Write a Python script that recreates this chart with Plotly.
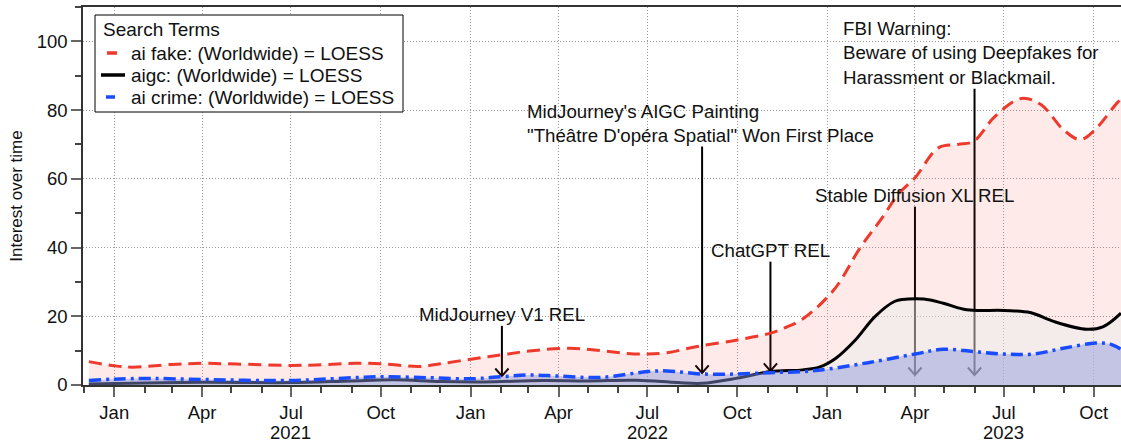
import pandas as pd
import plotly.graph_objects as go

# ---------------- data ----------------
fake_dates = ["2020-12-06", "2021-01-01", "2021-01-20", "2021-03-01", "2021-04-01", "2021-05-06",
              "2021-07-01", "2021-08-04", "2021-09-04", "2021-10-01", "2021-11-10", "2021-12-01",
              "2022-01-01", "2022-01-31", "2022-03-02", "2022-04-13", "2022-05-14", "2022-06-10",
              "2022-07-01", "2022-07-21", "2022-08-21", "2022-10-01", "2022-11-04", "2022-11-20",
              "2022-12-07", "2023-01-08", "2023-02-04", "2023-02-25", "2023-03-16", "2023-04-01",
              "2023-04-25", "2023-05-15", "2023-05-31", "2023-06-22", "2023-07-19", "2023-08-08",
              "2023-08-31", "2023-09-17", "2023-10-01", "2023-10-25", "2023-10-29"]
fake_vals = [6.8, 5.6, 5.2, 6.0, 6.3, 6.1,
             5.7, 5.9, 6.3, 6.2, 5.4, 6.2,
             7.5, 8.7, 9.9, 10.7, 10.0, 9.2,
             9.0, 9.4, 11.2, 13.1, 15.1, 16.8,
             19.2, 27.7, 40.0, 48.1, 55.9, 60.3,
             69.0, 70.0, 70.9, 78.2, 83.4, 81.6,
             74.3, 71.4, 73.9, 82.1, 83.2]

aigc_dates = ["2020-12-06", "2021-02-01", "2021-04-01", "2021-07-01", "2021-09-01", "2021-10-15",
              "2021-12-01", "2022-01-15", "2022-03-15", "2022-05-01", "2022-06-20", "2022-08-01",
              "2022-08-26", "2022-10-01", "2022-11-04", "2022-12-07", "2022-12-24", "2023-01-10",
              "2023-01-30", "2023-02-19", "2023-03-11", "2023-03-25", "2023-04-10", "2023-04-30",
              "2023-05-24", "2023-07-01", "2023-07-28", "2023-08-21", "2023-09-24", "2023-10-11",
              "2023-10-29"]
aigc_vals = [0.3, 0.6, 0.8, 0.7, 1.2, 1.5,
             1.0, 0.9, 1.3, 1.2, 1.4, 0.7,
             0.5, 2.0, 3.9, 4.4, 5.2, 7.8,
             13.1, 19.9, 24.3, 25.0, 25.0, 23.8,
             21.9, 21.7, 21.1, 18.5, 16.2, 17.0,
             20.9]

crime_dates = ["2020-12-06", "2021-01-01", "2021-02-07", "2021-04-01", "2021-07-01", "2021-08-18",
               "2021-10-01", "2021-11-21", "2022-01-01", "2022-02-01", "2022-03-02", "2022-04-01",
               "2022-05-14", "2022-07-01", "2022-07-21", "2022-08-26", "2022-10-01", "2022-11-04",
               "2022-12-07", "2023-01-01", "2023-02-12", "2023-04-01", "2023-04-30", "2023-06-01",
               "2023-07-01", "2023-07-31", "2023-08-31", "2023-10-03", "2023-10-18", "2023-10-29"]
crime_vals = [1.3, 1.7, 1.9, 1.6, 1.3, 1.9,
              2.4, 2.1, 1.8, 2.4, 2.9, 2.6,
              2.2, 3.9, 4.1, 3.2, 3.2, 3.6,
              3.9, 4.6, 6.5, 9.0, 10.4, 9.7,
              9.0, 9.0, 10.7, 12.2, 11.9, 10.4]

series_names = ["ai fake: (Worldwide) = LOESS", "aigc: (Worldwide) = LOESS", "ai crime: (Worldwide) = LOESS"]
legend_title = "Search Terms"

event_dates = ["2022-02-02", "2022-08-26", "2022-11-04", "2023-04-01", "2023-06-01"]
event_tail = [17.2, 69.4, 35.9, 51.9, 86.2]
event_head = [2.6, 3.5, 4.1, 2.9, 2.9]
event_labels = ["MidJourney V1 REL",
                "MidJourney's AIGC Painting<br>\"Théâtre D'opéra Spatial\" Won First Place",
                "ChatGPT REL",
                "Stable Diffusion XL REL",
                "FBI Warning:<br>Beware of using Deepfakes for<br>Harassment or Blackmail."]

tick_dates = ["2021-01-01", "2021-04-01", "2021-07-01", "2021-10-01",
              "2022-01-01", "2022-04-01", "2022-07-01", "2022-10-01",
              "2023-01-01", "2023-04-01", "2023-07-01", "2023-10-01"]
tick_labels = ["Jan", "Apr", "Jul", "Oct"] * 3
year_dates = ["2021-07-01", "2022-07-01", "2023-07-01"]
year_labels = ["2021", "2022", "2023"]

y_ticks = [0, 20, 40, 60, 80, 100]
x_range = ["2020-11-30", "2023-10-29"]
y_range = [0, 110]

# ---------------- figure ----------------
FONT = "Liberation Sans, Arial, Helvetica, sans-serif"
W, H = 1121, 442
ML, MR, MT, MB = 83, 0, 7, 57
PW, PH = W - ML - MR, H - MT - MB


def pxx(p):  # pixel x -> paper
    return (p - ML) / PW


def pxy(p):  # pixel y -> paper
    return (H - MB - p) / PH


fig = go.Figure()

# arrows (drawn beneath the area fills)
head_half_days = 6.8
head_height = 2.2
for d, t, h in zip(event_dates, event_tail, event_head):
    dt = pd.Timestamp(d)
    fig.add_trace(go.Scatter(x=[dt, dt], y=[t, h], mode="lines",
                             line=dict(color="black", width=2), showlegend=False, hoverinfo="skip"))
    fig.add_trace(go.Scatter(x=[dt - pd.Timedelta(days=head_half_days), dt, dt + pd.Timedelta(days=head_half_days)],
                             y=[h + head_height, h, h + head_height], mode="lines",
                             line=dict(color="black", width=2), showlegend=False, hoverinfo="skip"))

colors = ["#ee3a2c", "black", "#1a4cff"]
dashes = ["13px,7px", "solid", "12px,5px,3px,5px"]
fig.add_trace(go.Scatter(x=pd.to_datetime(fake_dates), y=fake_vals, name=series_names[0], showlegend=False,
                         mode="lines", line=dict(color=colors[0], width=3, dash=dashes[0], shape="spline", smoothing=1),
                         fill="tozeroy", fillcolor="rgba(245,70,55,0.11)"))
fig.add_trace(go.Scatter(x=pd.to_datetime(aigc_dates), y=aigc_vals, name=series_names[1], showlegend=False,
                         mode="lines", line=dict(color=colors[1], width=3, shape="spline", smoothing=1),
                         fill="tozeroy", fillcolor="rgba(233,238,236,0.45)"))
fig.add_trace(go.Scatter(x=pd.to_datetime(crime_dates), y=crime_vals, name=series_names[2], showlegend=False,
                         mode="lines", line=dict(color=colors[2], width=3.5, dash=dashes[2], shape="spline", smoothing=1),
                         fill="tozeroy", fillcolor="rgba(140,150,220,0.46)"))

# text labels of the events
text_cfg = [dict(xanchor="center", xshift=0, align="center"),
            dict(xanchor="left", xshift=-176, align="left"),
            dict(xanchor="center", xshift=0, align="center"),
            dict(xanchor="center", xshift=0, align="center"),
            dict(xanchor="left", xshift=-133, align="left")]
for d, t, lab, cfg in zip(event_dates, event_tail, event_labels, text_cfg):
    fig.add_annotation(x=pd.Timestamp(d), y=t, text=lab, showarrow=False, yanchor="bottom",
                       font=dict(family=FONT, size=18.7, color="#111"), borderpad=0, **cfg)

# year labels under the month ticks
for d, lab in zip(year_dates, year_labels):
    fig.add_annotation(x=pd.Timestamp(d), y=0, yref="paper", yshift=-47, text=lab, showarrow=False,
                       xanchor="center", yanchor="middle", borderpad=0, height=18, valign="middle",
                       font=dict(family=FONT, size=18.5, color="#111"))

# manual legend box
fig.add_shape(type="rect", xref="paper", yref="paper", x0=pxx(95), x1=pxx(403), y0=pxy(112), y1=pxy(15),
              line=dict(color="black", width=1), fillcolor="white", layer="above")
fig.add_annotation(xref="paper", yref="paper", x=pxx(102), y=pxy(29), text=legend_title, showarrow=False,
                   xanchor="left", yanchor="middle", font=dict(family=FONT, size=19, color="#111"), borderpad=0)
sym_x = [(107, 117), (101, 125), (106, 115)]
row_y = [53, 75, 97]
for i, name in enumerate(series_names):
    fig.add_shape(type="line", xref="paper", yref="paper", x0=pxx(sym_x[i][0]), x1=pxx(sym_x[i][1]),
                  y0=pxy(row_y[i]), y1=pxy(row_y[i]), line=dict(color=colors[i], width=3.5), layer="above")
    fig.add_annotation(xref="paper", yref="paper", x=pxx(130), y=pxy(row_y[i]), text=name, showarrow=False,
                       xanchor="left", yanchor="middle", font=dict(family=FONT, size=19, color="#111"), borderpad=0)

fig.update_layout(
    width=W, height=H,
    margin=dict(l=ML, r=MR, t=MT, b=MB, autoexpand=False),
    paper_bgcolor="white", plot_bgcolor="white",
    font=dict(family=FONT, size=18.5, color="#111"),
    showlegend=False,
)
fig.update_xaxes(
    type="date", range=x_range, automargin=False,
    tickmode="array", tickvals=tick_dates, ticktext=tick_labels,
    ticks="outside", ticklen=10, tickwidth=1.5, tickcolor="#666",
    showline=True, linecolor="#333", linewidth=1.5, mirror=True,
    showgrid=True, gridcolor="#999", griddash="1px,2px", gridwidth=1,
    minor=dict(dtick="M1", tick0="2020-12-01", ticks="outside", ticklen=6, tickcolor="#444", tickwidth=1.5, showgrid=False),
    tickfont=dict(size=18.5),
)
fig.update_yaxes(
    range=y_range, tickvals=y_ticks, automargin=False,
    ticks="outside", ticklen=10, tickwidth=1.5, tickcolor="#666",
    showline=True, linecolor="#333", linewidth=1.5,
    showgrid=True, gridcolor="#999", griddash="1px,2px", gridwidth=1, zeroline=False,
    minor=dict(dtick=10, ticks="outside", ticklen=6, tickcolor="#444", tickwidth=1.5, showgrid=False),
    title=dict(text="Interest over time", font=dict(size=17), standoff=10),
    tickfont=dict(size=18.5),
)

fig.write_html("out.html",
               config={"displayModeBar": False},
               post_script="document.body.style.margin='0';document.body.style.padding='0';"
                           "document.documentElement.style.overflow='hidden';")
